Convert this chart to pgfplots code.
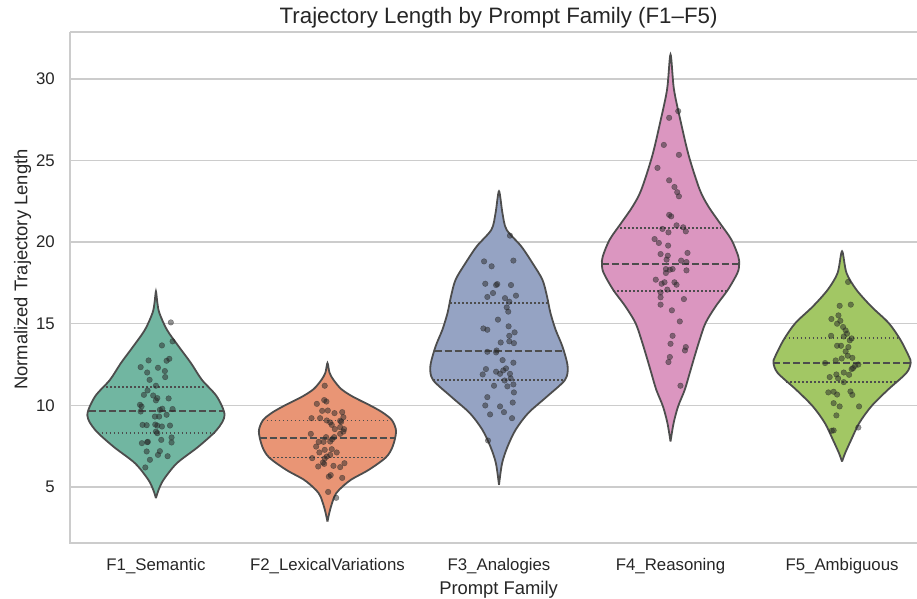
\documentclass[border=0pt]{standalone}
\usepackage{pgfplots}
\pgfplotsset{compat=1.18}
\usepackage{pgfplotstable}
\usepackage{fontspec}
\setmainfont{Liberation Sans}

\definecolor{c1}{RGB}{113,182,161}
\definecolor{c2}{RGB}{233,149,117}
\definecolor{c3}{RGB}{149,163,195}
\definecolor{c4}{RGB}{219,150,192}
\definecolor{c5}{RGB}{162,199,100}
\definecolor{vline}{RGB}{77,77,77}
\definecolor{gridgray}{RGB}{204,204,204}
\definecolor{txt}{RGB}{38,38,38}
\definecolor{dotc}{RGB}{40,40,40}

% violin outlines: y, signed half-width (right side up, left side down)
\pgfplotstableread{
y w
4.31 0
4.8 0.015
5.43 0.044
6.45 0.122
7.47 0.248
8.5 0.355
9.4 0.40
10.54 0.355
11.56 0.268
12.59 0.204
13.6 0.133
14.63 0.064
15.66 0.02
16.3 0.008
16.98 0
16.3 -0.008
15.66 -0.02
14.63 -0.064
13.6 -0.133
12.59 -0.204
11.56 -0.268
10.54 -0.355
9.4 -0.40
8.5 -0.355
7.47 -0.248
6.45 -0.122
5.43 -0.044
4.8 -0.015
4.31 0
}\vA

\pgfplotstableread{
y w
2.87 0
3.59 0.015
4.40 0.04
4.82 0.068
5.43 0.136
6.04 0.24
6.80 0.34
7.47 0.38
8.4 0.40
9.07 0.377
9.52 0.327
9.93 0.26
10.54 0.146
11.0 0.08
11.56 0.035
12.0 0.012
12.59 0
12.0 -0.012
11.56 -0.035
11.0 -0.08
10.54 -0.146
9.93 -0.26
9.52 -0.327
9.07 -0.377
8.4 -0.40
7.47 -0.38
6.80 -0.34
6.04 -0.24
5.43 -0.136
4.82 -0.068
4.40 -0.04
3.59 -0.015
2.87 0
}\vB

\pgfplotstableread{
y w
5.12 0
6.45 0.018
7.47 0.05
8.5 0.097
9.52 0.17
10.54 0.28
11.56 0.385
12.4 0.40
13.6 0.37
14.63 0.33
15.66 0.30
16.67 0.28
17.7 0.253
18.72 0.195
19.74 0.13
20.77 0.044
21.79 0.02
23.12 0
21.79 -0.02
20.77 -0.044
19.74 -0.13
18.72 -0.195
17.7 -0.253
16.67 -0.28
15.66 -0.30
14.63 -0.33
13.6 -0.37
12.4 -0.40
11.56 -0.385
10.54 -0.28
9.52 -0.17
8.5 -0.097
7.47 -0.05
6.45 -0.018
5.12 0
}\vC

\pgfplotstableread{
y w
7.78 0
8.91 0.018
9.93 0.044
10.95 0.083
11.98 0.112
12.99 0.14
14.02 0.17
15.04 0.204
16.06 0.263
17.09 0.335
18.11 0.39
18.62 0.40
19.13 0.395
20.15 0.355
21.18 0.287
22.2 0.22
23.22 0.17
25.27 0.107
27.31 0.061
29.36 0.02
31.5 0
29.36 -0.02
27.31 -0.061
25.27 -0.107
23.22 -0.17
22.2 -0.22
21.18 -0.287
20.15 -0.355
19.13 -0.395
18.62 -0.40
18.11 -0.39
17.09 -0.335
16.06 -0.263
15.04 -0.204
14.02 -0.17
12.99 -0.14
11.98 -0.112
10.95 -0.083
9.93 -0.044
8.91 -0.018
7.78 0
}\vD

\pgfplotstableread{
y w
6.55 0
7.07 0.018
7.88 0.053
8.91 0.10
9.93 0.17
10.95 0.267
11.98 0.375
12.6 0.40
12.99 0.39
14.02 0.34
15.04 0.272
16.06 0.17
17.09 0.083
18.11 0.026
19.44 0
18.11 -0.026
17.09 -0.083
16.06 -0.17
15.04 -0.272
14.02 -0.34
12.99 -0.39
12.6 -0.40
11.98 -0.375
10.95 -0.267
9.93 -0.17
8.91 -0.10
7.88 -0.053
7.07 -0.018
6.55 0
}\vE

\begin{document}
\begin{tikzpicture}
\path[use as bounding box] (-70pt,-55pt) rectangle (847pt,543pt);
\begin{axis}[
  at={(0pt,0pt)}, anchor=south west,
  scale only axis, width=847pt, height=511pt,
  xmin=-0.501, xmax=4.437, ymin=1.56, ymax=32.88,
  xtick={0,1,2,3,4},
  xticklabels={F1\_Semantic,F2\_LexicalVariations,F3\_Analogies,F4\_Reasoning,F5\_Ambiguous},
  ytick={5,10,15,20,25,30},
  ymajorgrids, grid style={color=gridgray, line width=1.3pt},
  major tick length=0pt,
  axis line style={draw=none},
  /pgf/number format/assume math mode=true,
  tick label style={font=\fontsize{16.8}{20}\selectfont, text=txt, inner sep=0pt},
  xticklabel style={anchor=north, yshift=-15pt},
  yticklabel style={anchor=east, xshift=-15pt},
  title={Trajectory Length by Prompt Family (F1–F5)},
  title style={font=\fontsize{22.3}{26}\selectfont, text=txt, inner sep=0pt,
    at={(axis description cs:0.506,1)}, anchor=base, yshift=2.5pt},
  xlabel={Prompt Family},
  xlabel style={font=\fontsize{18.4}{22}\selectfont, text=txt, inner sep=0pt,
    at={(axis description cs:0.506,0)}, anchor=base, yshift=-51pt},
  ylabel={Normalized Trajectory Length},
  ylabel style={font=\fontsize{18.4}{22}\selectfont, text=txt, inner sep=0pt,
    at={(axis description cs:-0.0502,0.535)}, anchor=base},
  violin/.style={draw=vline, line width=1.8pt, smooth, tension=0.5},
  med/.style={draw=vline, line width=1.9pt, dash pattern=on 7pt off 3pt},
  quart/.style={draw=vline, line width=1.9pt, dash pattern=on 1.6pt off 2.4pt},
  pts/.style={only marks, mark=*, mark size=2.8pt, color=dotc, opacity=0.5,
    mark options={draw=none, fill=dotc}},
  extra description/.code={
    \draw[gridgray, line width=1.7pt] (axis description cs:0,1) -- (axis description cs:0,0) -- (axis description cs:1,0);
    \draw[gridgray, line width=1.7pt] (axis description cs:0,1) -- (axis description cs:1,1);
  },
]
% violins
\addplot[violin, fill=c1] table[x expr=\thisrow{w}+0, y=y] {\vA};
\addplot[violin, fill=c2] table[x expr=\thisrow{w}+1, y=y] {\vB};
\addplot[violin, fill=c3] table[x expr=\thisrow{w}+2, y=y] {\vC};
\addplot[violin, fill=c4] table[x expr=\thisrow{w}+3, y=y] {\vD};
\addplot[violin, fill=c5] table[x expr=\thisrow{w}+4, y=y] {\vE};

% quartiles
\addplot[med] coordinates {(-0.39,9.66) (0.39,9.66)};
\addplot[quart] coordinates {(-0.34,8.29) (0.34,8.29)};
\addplot[quart] coordinates {(-0.29,11.13) (0.29,11.13)};
\addplot[med] coordinates {(0.605,7.99) (1.395,7.99)};
\addplot[quart] coordinates {(0.66,6.80) (1.34,6.80)};
\addplot[quart] coordinates {(0.623,9.07) (1.377,9.07)};
\addplot[med] coordinates {(1.625,13.34) (2.375,13.34)};
\addplot[quart] coordinates {(1.616,11.54) (2.384,11.54)};
\addplot[quart] coordinates {(1.715,16.27) (2.285,16.27)};
\addplot[med] coordinates {(2.60,18.66) (3.40,18.66)};
\addplot[quart] coordinates {(2.665,16.98) (3.335,16.98)};
\addplot[quart] coordinates {(2.705,20.87) (3.295,20.87)};
\addplot[med] coordinates {(3.60,12.59) (4.40,12.59)};
\addplot[quart] coordinates {(3.675,11.44) (4.325,11.44)};
\addplot[quart] coordinates {(3.665,14.12) (4.335,14.12)};

% strip points
\addplot[pts] coordinates {(0.087,15.08)(0.097,13.92)(0.035,13.67)(-0.043,12.75)(0.062,12.73)(0.078,12.85)(-0.089,12.34)(0.012,12.30)(0.052,12.10)(-0.051,12.01)(0.054,11.73)(-0.037,11.56)(0,11.20)(-0.070,10.64)(-0.049,10.91)(-0.016,10.60)(0.008,10.44)(0,10.30)(0.074,10.42)(-0.093,10.03)(-0.084,9.93)(-0.089,9.62)(0.037,9.79)(0.097,9.77)(0.023,9.72)(0.062,9.42)(-0.006,9.31)(0.019,9.31)(-0.078,8.80)(-0.054,8.78)(-0.004,8.82)(0.008,8.76)(0.035,8.70)(0.082,8.76)(0,8.39)(0.008,8.29)(0.091,8.03)(0.091,7.72)(-0.082,7.68)(-0.051,7.74)(-0.047,7.76)(0.031,7.88)(-0.054,7.17)(0.023,7.19)(0.012,6.96)(0.068,6.88)(-0.035,6.66)(-0.062,6.19)};
\addplot[pts] coordinates {(0.984,11.20)(0.938,10.09)(0.981,10.32)(0.994,10.23)(0.969,9.66)(1.002,9.68)(1.041,9.52)(1.086,9.58)(0.907,9.21)(0.957,9.21)(0.996,9.07)(1.016,8.95)(1.074,9.05)(1.093,9.27)(1.025,8.80)(1.080,8.99)(1.097,8.54)(1.043,8.54)(1.074,8.66)(0.903,8.25)(0.992,8.05)(1.039,8.05)(1.074,8.25)(1.093,8.39)(0.949,7.76)(0.977,7.76)(1.016,7.78)(1.027,7.92)(0.934,7.47)(0.984,7.27)(1.025,7.31)(1.054,7.11)(0.953,7.11)(0.996,6.86)(1.016,6.96)(0.911,6.76)(0.984,6.74)(0.973,6.49)(0.946,6.25)(0.981,6.41)(1.035,6.29)(1.099,6.45)(1.074,6.21)(1.008,5.63)(1.019,5.72)(1.086,5.55)(1.004,4.69)(1.051,4.33)};
\addplot[pts] coordinates {(2.064,20.40)(1.913,18.82)(2.084,18.87)(1.957,18.52)(1.920,17.45)(1.990,17.43)(1.983,17.37)(2.070,17.37)(1.965,16.88)(1.932,16.64)(2.035,16.57)(2.099,16.72)(2.060,16.35)(2.045,16.00)(2.054,15.74)(1.994,15.25)(2.056,14.84)(1.909,14.71)(1.932,14.63)(2.091,14.47)(2.060,14.26)(2.060,13.92)(2.010,13.85)(2.087,13.81)(1.932,13.28)(1.986,13.36)(1.983,13.24)(2.021,12.77)(2.084,12.61)(2.041,12.26)(2.025,12.14)(1.924,12.22)(1.983,12.06)(2.006,11.93)(1.905,11.89)(2.064,11.93)(2.068,11.65)(2.033,11.52)(2.084,11.28)(1.971,11.20)(2.049,11.16)(2.087,10.79)(1.932,10.50)(1.920,9.99)(2.006,9.93)(2.080,10.17)(2.029,9.58)(1.948,9.44)(2.076,9.21)(1.936,7.84)};
\addplot[pts] coordinates {(3.045,28.03)(2.992,27.62)(2.961,25.96)(3.049,25.35)(2.924,24.55)(2.992,23.79)(3.023,23.38)(3.039,23.06)(3.049,22.81)(2.992,21.67)(3.004,21.58)(3.035,21.03)(3.074,20.91)(3.089,20.66)(2.953,20.81)(2.988,20.60)(2.907,20.19)(2.932,19.95)(2.986,19.79)(3.099,19.34)(2.942,19.27)(2.984,19.17)(2.977,18.93)(3.062,18.87)(3.093,18.78)(2.973,18.35)(2.996,18.31)(3.012,18.35)(3.093,18.27)(2.973,18.11)(2.914,17.70)(2.965,17.54)(2.948,17.45)(3.023,17.54)(3.035,17.39)(2.981,17.09)(2.942,16.92)(2.942,16.62)(3.078,16.51)(2.942,16.17)(3.008,15.82)(3.054,15.14)(3.012,14.26)(3.000,13.77)(3.089,13.57)(3.084,13.36)(2.996,12.96)(2.988,12.65)(3.058,11.20)};
\addplot[pts] coordinates {(4.035,17.56)(3.986,16.10)(4.051,16.17)(3.979,15.51)(3.938,15.29)(3.990,15.18)(3.971,15.00)(4.006,14.80)(4.021,14.59)(4.029,14.39)(3.936,14.26)(4.010,14.22)(4.056,14.10)(4.045,13.98)(3.971,13.65)(3.994,13.65)(4.037,13.57)(4.021,13.30)(4.033,13.04)(4.060,12.91)(3.963,12.75)(3.998,12.87)(3.901,12.59)(4.095,12.50)(4.076,12.42)(4.064,12.28)(4.056,12.22)(4.010,12.01)(4.041,11.87)(3.928,11.73)(3.967,11.89)(3.977,11.65)(4.010,11.42)(3.920,10.79)(3.951,10.83)(3.971,10.66)(4.049,10.85)(4.060,10.64)(3.951,10.13)(3.986,9.93)(4.099,9.93)(3.967,9.38)(3.940,8.44)(3.951,8.46)(4.095,8.64)};
\end{axis}
\end{tikzpicture}
\end{document}
